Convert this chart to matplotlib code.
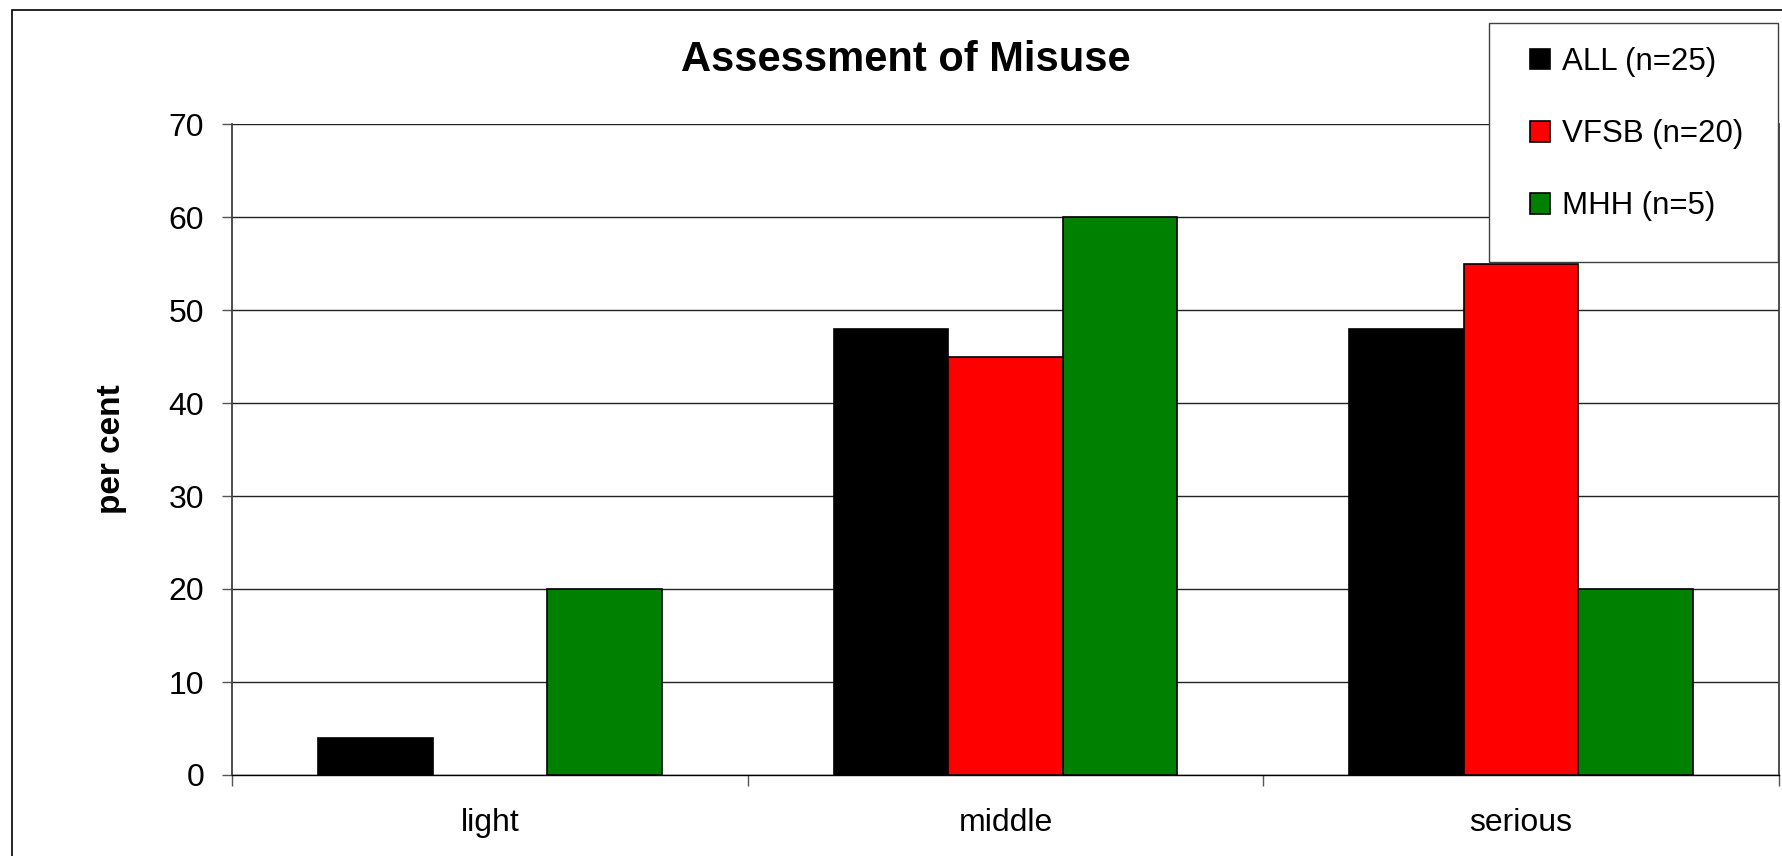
import numpy as np
import matplotlib.pyplot as plt
from matplotlib.patches import Rectangle

plt.rcParams['font.family'] = ['Liberation Sans', 'DejaVu Sans']

# data
categories = ['light', 'middle', 'serious']
series_names = ['ALL (n=25)', 'VFSB (n=20)', 'MHH (n=5)']
all_vals = [4, 48, 48]
vfsb_vals = [0, 45, 55]
mhh_vals = [20, 60, 20]
colors = ['#000000', '#FF0000', '#008000']

W, H = 1783, 856
fig = plt.figure(figsize=(W / 100, H / 100), dpi=100)
ax = fig.add_axes([232 / W, 1 - 775 / H, (1779 - 232) / W, (775 - 124) / H])

x = np.arange(len(categories))
w = 1 / 4.5  # excel gap width 150
for i, (vals, c, name) in enumerate(zip([all_vals, vfsb_vals, mhh_vals], colors, series_names)):
    lw = [1.2 if v > 0 else 0 for v in vals]
    ax.bar(x + (i - 1) * w, vals, width=w, color=c, edgecolor='black', linewidth=lw,
           label=name, zorder=3)

ax.set_xlim(-0.5, 2.5)
ax.set_ylim(0, 70)
ax.set_yticks(range(0, 71, 10))
ax.yaxis.grid(True, color='#222222', linewidth=1.0, zorder=0)
ax.set_axisbelow(True)

# category labels in the middle, ticks on the boundaries
ax.set_xticks(x)
ax.set_xticklabels(categories, fontsize=23)
ax.set_xticks([-0.5, 0.5, 1.5, 2.5], minor=True)
ax.tick_params(axis='x', which='major', length=0, pad=24)
ax.tick_params(axis='x', which='minor', length=8, width=1, color='#555555', direction='out')
ax.tick_params(axis='y', length=7, width=1, color='#555555', labelsize=23, pad=13)

for s in ['left', 'right']:
    ax.spines[s].set_color('#404040')
    ax.spines[s].set_linewidth(1.3)
ax.spines['top'].set_visible(False)
ax.spines['bottom'].set_color('black')
ax.spines['bottom'].set_linewidth(1.0)

ax.set_ylabel('per cent', fontsize=24, fontweight='bold')
ax.yaxis.set_label_coords(-(232 - 127) / (1779 - 232), 0.5)

fig.text(906 / W, 1 - 60 / H, 'Assessment of Misuse', fontsize=30, fontweight='bold',
         ha='center', va='center')

# outer chart frame
fig.add_artist(Rectangle((12 / W, -0.1), 1.2, 1 - 10 / H + 0.1, transform=fig.transFigure,
                         fill=False, edgecolor='black', linewidth=1.2, zorder=1))

# legend box
fig.add_artist(Rectangle((1489 / W, 1 - 262 / H), (1778 - 1489) / W, (262 - 23) / H,
                         transform=fig.transFigure, facecolor='white', edgecolor='#404040',
                         linewidth=1.0, zorder=5))
leg = fig.legend(loc='upper left', bbox_to_anchor=(1530 / W, 1 - 47 / H), frameon=False,
                 fontsize=22.5, handlelength=0.65, handleheight=0.65, handletextpad=0.36,
                 labelspacing=1.35, borderpad=0, borderaxespad=0)
for h in leg.legend_handles:
    h.set_linewidth(1.2)
    h.set_edgecolor('black')
leg.set_zorder(6)

fig.savefig('out.png', dpi=100)
